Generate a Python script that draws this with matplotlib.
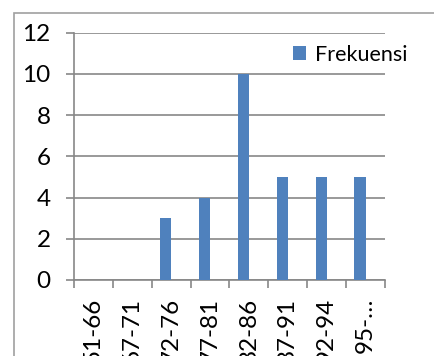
import numpy as np
import matplotlib
matplotlib.use('Agg')
from matplotlib import pyplot as plt
from matplotlib.patches import Rectangle

categories = ['51-66', '67-71', '72-76', '77-81', '82-86', '87-91', '92-94', '95-…']
frekuensi = [0, 0, 3, 4, 10, 5, 5, 5]
y_ticks = [0, 2, 4, 6, 8, 10, 12]

plt.rcParams['font.family'] = ['Lato', 'DejaVu Sans']

W, H = 435, 356
fig = plt.figure(figsize=(W / 100, H / 100), dpi=100)
ax = fig.add_axes([74 / W, (H - 280) / H, (385 - 74) / W, (280 - 32.5) / H])

# outer chart border (cut by the image on right and bottom)
fig.patches.append(Rectangle((14 / W, -0.2), 2, (H - 13) / H + 0.2,
                             transform=fig.transFigure, fill=False,
                             edgecolor='#a0a0a0', linewidth=1.2))

x = np.arange(len(categories))
bar_w = 0.286
ax.bar(x - bar_w / 2, frekuensi, width=bar_w, color='#4F81BD', label='Frekuensi', zorder=3)

ax.set_xlim(-0.5, len(categories) - 0.5)
ax.set_ylim(0, 12)
ax.set_yticks(y_ticks)
ax.yaxis.grid(True, color='#878787', linewidth=1.2, zorder=0)
ax.set_axisbelow(True)

for s in ['top', 'right']:
    ax.spines[s].set_visible(False)
for s in ['left', 'bottom']:
    ax.spines[s].set_color('#878787')
    ax.spines[s].set_linewidth(1.2)

ax.set_xticks(x)
ax.set_xticklabels(categories, rotation=90, va='top', ha='center')
ax.set_xticks(np.arange(len(categories) + 1) - 0.5, minor=True)
ax.tick_params(axis='x', which='major', length=0, pad=13, labelsize=17.5)
ax.tick_params(axis='x', which='minor', length=5.5, width=1.2, color='#878787', direction='out')
ax.tick_params(axis='y', length=5.8, width=1.2, color='#878787', direction='out', pad=11, labelsize=17.5)

ax.legend(loc='upper left', bbox_to_anchor=(0.704, 0.95), frameon=False,
          handlelength=0.62, handleheight=0.62, handletextpad=0.4,
          fontsize=15.5, borderaxespad=0, borderpad=0)

plt.savefig('out.png', dpi=100)
